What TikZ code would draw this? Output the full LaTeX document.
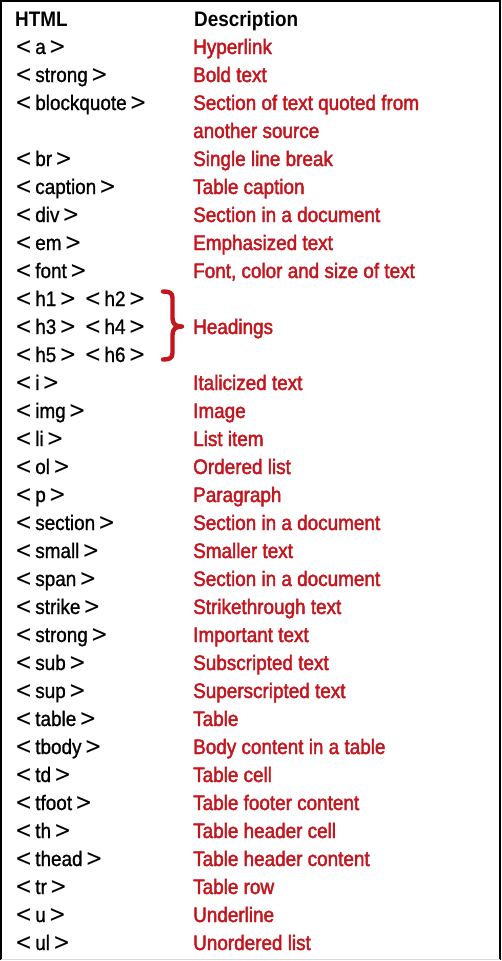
\documentclass[tikz,border=0pt]{standalone}
\usepackage{fontspec}
\setmainfont{Liberation Sans}[FakeStretch=0.9]
\newfontfamily\tagfont{Liberation Sans}[FakeStretch=0.9, FakeBold=1]
\newfontfamily\descfont{Liberation Sans}[FakeStretch=0.9, FakeBold=2]
\newfontfamily\brfont{DejaVu Sans}[FakeStretch=0.85]
\newcommand{\tg}[1]{{\fontsize{24}{24}\brfont<}\kern3pt #1\kern3pt{\fontsize{24}{24}\brfont>}}
\newcommand{\tgsep}{\hspace{8pt}}
\definecolor{descred}{RGB}{196,22,30}
\tikzset{
  txt/.style={anchor=base west, inner sep=0pt},
  tagtxt/.style={txt, text=black, font=\fontsize{21}{24}\tagfont},
  desctxt/.style={txt, text=descred, font=\fontsize{21}{24}\descfont},
  headtxt/.style={txt, text=black, font=\fontsize{21}{24}\selectfont\bfseries},
}
\begin{document}
\begin{tikzpicture}[x=1pt,y=1pt]
\useasboundingbox (0,0) rectangle (501,-961);
\fill[white] (0,0) rectangle (501,-961);
% frame
\draw[line width=2.2pt] (1,-960) -- (1,-1) -- (500,-1) -- (500,-960);
\draw[line width=1pt, black!15] (1,-959) -- (500,-959);
% header
\node[headtxt] (hhtml) at (15,-26) {HTML};
\node[headtxt] (hdesc) at (194,-26) {Description};
% tags
\foreach \r/\t in {1/{\tg{a}},2/{\tg{strong}},3/{\tg{blockquote}},5/{\tg{br}},6/{\tg{caption}},7/{\tg{div}},8/{\tg{em}},9/{\tg{font}},10/{\tg{h1}\tgsep\tg{h2}},11/{\tg{h3}\tgsep\tg{h4}},12/{\tg{h5}\tgsep\tg{h6}},13/{\tg{i}},14/{\tg{img}},15/{\tg{li}},16/{\tg{ol}},17/{\tg{p}},18/{\tg{section}},19/{\tg{small}},20/{\tg{span}},21/{\tg{strike}},22/{\tg{strong}},23/{\tg{sub}},24/{\tg{sup}},25/{\tg{table}},26/{\tg{tbody}},27/{\tg{td}},28/{\tg{tfoot}},29/{\tg{th}},30/{\tg{thead}},31/{\tg{tr}},32/{\tg{u}},33/{\tg{ul}}}
  \node[tagtxt] (tag\r) at (15,{-26-28*\r}) {\t};
% descriptions
\foreach \r/\d in {1/{Hyperlink},2/{Bold text},3/{Section of text quoted from},4/{another source},5/{Single line break},6/{Table caption},7/{Section in a document},8/{Emphasized text},9/{Font, color and size of text},11/{Headings},13/{Italicized text},14/{Image},15/{List item},16/{Ordered list},17/{Paragraph},18/{Section in a document},19/{Smaller text},20/{Section in a document},21/{Strikethrough text},22/{Important text},23/{Subscripted text},24/{Superscripted text},25/{Table},26/{Body content in a table},27/{Table cell},28/{Table footer content},29/{Table header cell},30/{Table header content},31/{Table row},32/{Underline},33/{Unordered list}}
  \node[desctxt] (desc\r) at (193,{-26-28*\r}) {\d};
% brace
\coordinate (bracetop) at (163,-291.5);
\coordinate (bracetip) at (182,-326.5);
\coordinate (bracebot) at (163,-359.5);
\draw[descred, line width=4.4pt, line cap=round, line join=round]
  (bracetop) .. controls (169,-291.5) and (172.5,-292.5) .. (172.5,-298)
  -- (172.5,-318) .. controls (172.5,-323.5) and (175,-326.5) .. (bracetip)
  .. controls (175,-326.5) and (172.5,-329.5) .. (172.5,-335)
  -- (172.5,-353) .. controls (172.5,-358.5) and (169,-359.5) .. (bracebot);
\end{tikzpicture}
\end{document}
